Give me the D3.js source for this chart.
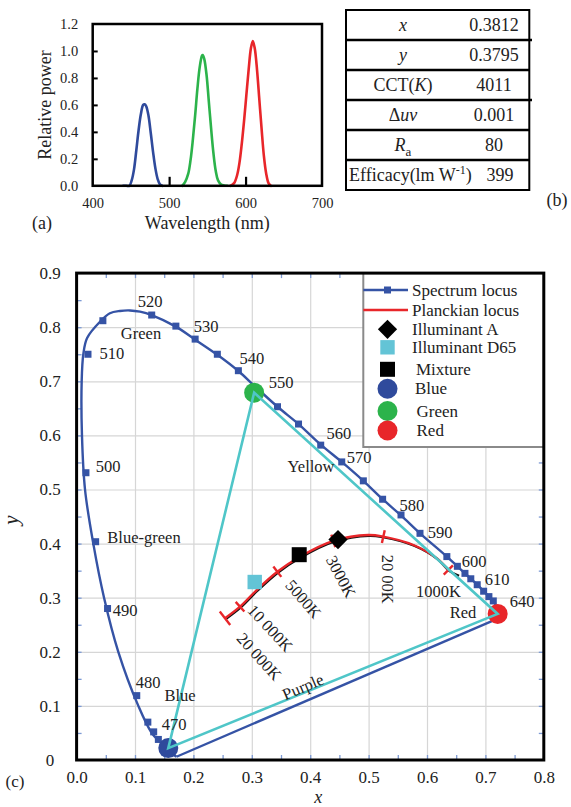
<!DOCTYPE html>
<html><head><meta charset="utf-8">
<script src="https://cdn.jsdelivr.net/npm/d3@7"></script>
<style>
html,body{margin:0;padding:0;background:#fff;}
svg{display:block;font-family:"Liberation Serif","Times New Roman",serif;}
</style></head><body>
<svg id="fig" width="571" height="807"></svg>
<script>
// ---------- (a) LED spectra ----------
const wavelengthTicks = [400, 500, 600, 700];
const powerTicks = [0, 0.2, 0.4, 0.6, 0.8, 1.0, 1.2];
const powerTickLabels = ["0.0", "0.2", "0.4", "0.6", "0.8", "1.0", "1.2"];
const blueSpectrum = [[440,0],[444,0],[448,0],[451,0.04],[454,0.12],[457,0.26],[460,0.41],[463,0.53],[466,0.60],[468,0.605],[470,0.59],[473,0.52],[476,0.39],[479,0.25],[482,0.13],[485,0.05],[488,0.01],[491,0]];
const greenSpectrum = [[517,0],[521,0.03],[525,0.09],[528,0.19],[531,0.34],[534,0.52],[537,0.72],[540,0.88],[543,0.965],[544,0.97],[546,0.94],[549,0.82],[552,0.62],[555,0.42],[558,0.24],[561,0.11],[564,0.04],[568,0.01],[572,0.003],[576,0]];
const redSpectrum = [[580,0],[585,0.02],[589,0.08],[592,0.17],[595,0.31],[598,0.48],[601,0.67],[604,0.86],[607,1.02],[609.5,1.074],[612,1.02],[615,0.86],[618,0.64],[621,0.42],[624,0.22],[627,0.09],[630,0.02],[633,0]];

// ---------- (b) colour metrics ----------
const tableLabels = [
  [["x","i"]],
  [["y","i"]],
  [["CCT(",""],["K","i"],[")",""]],
  [["\u0394",""],["uv","i"]],
  [["R","i"],["a","sub"]],
  [["Efficacy(lm W",""],["-1","sup"],[")",""]]
];
const tableValues = ["0.3812", "0.3795", "4011", "0.001", "80", "399"];

// ---------- (c) CIE 1931 chromaticity diagram ----------
const xTicks = [0, 0.1, 0.2, 0.3, 0.4, 0.5, 0.6, 0.7, 0.8];
const xTickLabels = ["0.0","0.1","0.2","0.3","0.4","0.5","0.6","0.7","0.8"];
const yTicks = [0, 0.1, 0.2, 0.3, 0.4, 0.5, 0.6, 0.7, 0.8, 0.9];
const yTickLabels = ["0","0.1","0.2","0.3","0.4","0.5","0.6","0.7","0.8","0.9"];
const minorX = [0.05,0.1,0.15,0.2,0.25,0.3,0.35,0.4,0.45,0.5,0.55,0.6,0.65,0.7,0.75];
const minorY = [0.05,0.1,0.15,0.2,0.25,0.3,0.35,0.4,0.45,0.5,0.55,0.6,0.65,0.7,0.75,0.8,0.85];

// spectrum locus outline, blue end to red end
const locusCurve = [[0.171,0.006],[0.158,0.016],[0.146,0.030],[0.1286,0.05],[0.1057,0.1],[0.0714,0.2],[0.047,0.3],[0.0286,0.4],[0.0144,0.5],[0.0092,0.6],[0.0087,0.7],[0.0115,0.75],[0.018,0.78],[0.040,0.81],[0.057,0.8257],[0.0743,0.830],[0.0914,0.831],[0.1086,0.8287],[0.1286,0.8225],[0.170,0.801],[0.203,0.777],[0.241,0.749],[0.277,0.719],[0.304,0.692],[0.344,0.653],[0.380,0.621],[0.418,0.583],[0.454,0.551],[0.491,0.516],[0.524,0.482],[0.5555,0.452],[0.588,0.419],[0.634,0.376],[0.652,0.358],[0.665,0.345],[0.675,0.335],[0.686,0.324],[0.697,0.312],[0.706,0.302],[0.7135,0.294],[0.727,0.264]];
const locusMarkers = [[0.140,0.038],[0.132,0.052],[0.122,0.070],[0.103,0.119],[0.053,0.280],[0.0326,0.4035],[0.016,0.531],[0.0195,0.750],[0.045,0.812],[0.1286,0.8225],[0.170,0.802],[0.203,0.778],[0.241,0.750],[0.277,0.7196],[0.344,0.653],[0.380,0.621],[0.418,0.582],[0.454,0.551],[0.491,0.516],[0.524,0.482],[0.5555,0.453],[0.588,0.419],[0.634,0.376],[0.652,0.358],[0.665,0.345],[0.675,0.335],[0.686,0.324],[0.697,0.312],[0.706,0.302],[0.7135,0.294]];
const purpleLine = [[0.171,0.006],[0.727,0.264]];

// Planckian locus, 20 000 K to 1000 K
const planckCurve = [[0.2541,0.2619],[0.2798,0.2834],[0.3084,0.3142],[0.3437,0.348],[0.3825,0.3758],[0.4396,0.405],[0.4995,0.4159],[0.5252,0.4128],[0.5766,0.3974],[0.6166,0.3728],[0.6365,0.3512]];
const planckExtension = [[0.6365,0.3512],[0.6536,0.342]];
const cctNames = ["20 000K", "10 000K", "5000K", "3000K", "20 00K", "1000K"];
const cctPoints = [[0.2541,0.2619],[0.2798,0.2834],[0.3437,0.348],[0.4396,0.405],[0.5252,0.4128],[0.6365,0.3512]];

const illuminantA = [0.4476, 0.4074];
const illuminantD65 = [0.305, 0.329];
const mixture = [0.3812, 0.3795];
const primaryNames = ["Blue", "Green", "Red"];
const primaries = [[0.157,0.022],[0.304,0.679],[0.721,0.270]];

const C = {
  locus: "#3553a5", cyan: "#4fc6c8", planck: "#e8262a", d65: "#63c4d6",
  blue: "#2f4a9c", green: "#2cb34b", red: "#e8262a", text: "#222", grid: "#d6d6d6", tick: "#7d9ad4"
};
const primaryColors = [C.blue, C.green, C.red];

const svg = d3.select("#fig");
const serif = "Liberation Serif, Times New Roman, serif";

/* ================= panel (a) ================= */
const ax = d3.scaleLinear().domain([400, 700]).range([92.7, 322]);
const ay = d3.scaleLinear().domain([0, 1.2]).range([185.8, 24]);
const pa = svg.append("g");

const axB = pa.append("g").attr("transform", `translate(0,${ay(0)})`)
  .call(d3.axisBottom(ax).tickValues(wavelengthTicks).tickSize(0).tickPadding(12).tickFormat(d3.format("d")));
axB.attr("font-family", serif).attr("font-size", 14.5);
axB.select(".domain").remove();
axB.selectAll("text").attr("fill", C.text);

const axL = pa.append("g").attr("transform", `translate(${ax(400)},0)`)
  .call(d3.axisLeft(ay).tickValues(powerTicks).tickSize(0).tickPadding(14.5).tickFormat((d, i) => powerTickLabels[i]));
axL.attr("font-family", serif).attr("font-size", 14.5);
axL.select(".domain").remove();
axL.selectAll("text").attr("fill", C.text);

// inward tick marks
const axLt = pa.append("g").attr("transform", `translate(${ax(400)},0)`)
  .call(d3.axisLeft(ay).tickValues(powerTicks.slice(1, -1)).tickSize(-5).tickFormat(""));
axLt.select(".domain").remove();
axLt.selectAll("line").attr("stroke", "#000").attr("stroke-width", 2);
const axBt = pa.append("g").attr("transform", `translate(0,${ay(0)})`)
  .call(d3.axisBottom(ax).tickValues(wavelengthTicks.slice(1, -1)).tickSize(-9).tickFormat(""));
axBt.select(".domain").remove();
axBt.selectAll("line").attr("stroke", "#000").attr("stroke-width", 2.2);

const specLine = d3.line().x(d => ax(d[0])).y(d => ay(d[1])).curve(d3.curveCatmullRom.alpha(0.5));
[[blueSpectrum, C.blue], [greenSpectrum, C.green], [redSpectrum, C.red]].forEach(([s, col]) => {
  pa.append("path").attr("d", specLine(s)).attr("fill", "none").attr("stroke", col)
    .attr("stroke-width", 2.6).attr("stroke-linejoin", "round").attr("stroke-linecap", "round");
});

pa.append("rect").attr("x", ax(400)).attr("y", ay(1.2)).attr("width", ax(700) - ax(400)).attr("height", ay(0) - ay(1.2))
  .attr("fill", "none").attr("stroke", "#000").attr("stroke-width", 2.5);

pa.append("text").attr("transform", `translate(45,${(ay(0) + ay(1.2)) / 2}) rotate(-90)`)
  .attr("text-anchor", "middle").attr("dy", "0.32em").attr("font-size", 18).attr("fill", C.text).text("Relative power");
pa.append("text").attr("x", (ax(400) + ax(700)) / 2).attr("y", 223).attr("dy", "0.32em")
  .attr("text-anchor", "middle").attr("font-size", 18).attr("fill", C.text).text("Wavelength (nm)");
pa.append("text").attr("x", 42).attr("y", 223).attr("dy", "0.32em").attr("text-anchor", "middle")
  .attr("font-size", 18).attr("fill", C.text).text("(a)");

/* ================= panel (b) ================= */
const pb = svg.append("g");
const rowBand = d3.scaleBand().domain(d3.range(tableValues.length)).range([10, 190]);
pb.append("rect").attr("x", 346).attr("y", 10).attr("width", 183.3).attr("height", 180)
  .attr("fill", "none").attr("stroke", "#000").attr("stroke-width", 2);
tableValues.forEach((v, i) => {
  if (i > 0) {
    pb.append("line").attr("x1", 346).attr("x2", i % 2 === 1 && i < 4 ? 532 : 529.3)
      .attr("y1", rowBand(i)).attr("y2", rowBand(i)).attr("stroke", "#000").attr("stroke-width", 2.6);
  }
  const yc = rowBand(i) + rowBand.bandwidth() / 2;
  const last = i === tableValues.length - 1;
  const t = pb.append("text").attr("x", last ? 349 : 403).attr("y", yc).attr("dy", "0.34em")
    .attr("text-anchor", last ? "start" : "middle").attr("font-size", 18).attr("fill", C.text);
  tableLabels[i].forEach(([s, style]) => {
    const ts = t.append("tspan").text(s);
    if (style === "i") ts.attr("font-style", "italic");
    if (style === "sub") ts.attr("font-size", 13).attr("dy", 5);
    if (style === "sup") ts.attr("font-size", 12).attr("dy", -7);
    if (style === "" && s === ")" && tableLabels[i].some(p => p[1] === "sup")) ts.attr("dy", 7);
  });
  pb.append("text").attr("x", last ? 500 : 494).attr("y", yc).attr("dy", "0.34em")
    .attr("text-anchor", "middle").attr("font-size", 18).attr("fill", C.text).text(v);
});
pb.append("text").attr("x", 557).attr("y", 200).attr("dy", "0.32em").attr("text-anchor", "middle")
  .attr("font-size", 18).attr("fill", C.text).text("(b)");

/* ================= panel (c) ================= */
const cx = d3.scaleLinear().domain([0, 0.8]).range([76.6, 543.8]);
const cy = d3.scaleLinear().domain([0, 0.9]).range([760, 273.1]);
const pc = svg.append("g");
const W = cx(0.8) - cx(0), H = cy(0) - cy(0.9);

// grid
const gGx = pc.append("g").attr("transform", `translate(0,${cy(0)})`)
  .call(d3.axisBottom(cx).tickValues(xTicks.slice(1, -1)).tickSize(-H).tickFormat(""));
const gGy = pc.append("g").attr("transform", `translate(${cx(0)},0)`)
  .call(d3.axisLeft(cy).tickValues(yTicks.slice(1, -1)).tickSize(-W).tickFormat(""));
[gGx, gGy].forEach(g => { g.select(".domain").remove(); g.selectAll("line").attr("stroke", C.grid).attr("stroke-width", 1.2); });

// inward minor ticks on all four sides
const tickAxes = [
  [d3.axisBottom(cx).tickValues(minorX), `translate(0,${cy(0)})`],
  [d3.axisTop(cx).tickValues(minorX), `translate(0,${cy(0.9)})`],
  [d3.axisLeft(cy).tickValues(minorY), `translate(${cx(0)},0)`],
  [d3.axisRight(cy).tickValues(minorY), `translate(${cx(0.8)},0)`]
];
tickAxes.forEach(([a, tr]) => {
  const g = pc.append("g").attr("transform", tr).call(a.tickSize(-5).tickFormat(""));
  g.select(".domain").remove();
  g.selectAll("line").attr("stroke", C.tick).attr("stroke-width", 1.3);
});

// tick labels
const lx = pc.append("g").attr("transform", `translate(0,${cy(0)})`)
  .call(d3.axisBottom(cx).tickValues(xTicks).tickSize(0).tickPadding(10.5).tickFormat((d, i) => xTickLabels[i]));
lx.attr("font-family", serif).attr("font-size", 17);
lx.select(".domain").remove();
lx.selectAll("text").attr("fill", C.text);
const ly = pc.append("g").attr("transform", `translate(${cx(0)},0)`)
  .call(d3.axisLeft(cy).tickValues(yTicks).tickSize(0).tickFormat((d, i) => yTickLabels[i]));
ly.attr("font-family", serif).attr("font-size", 17);
ly.select(".domain").remove();
ly.selectAll("text").attr("fill", C.text).attr("text-anchor", "middle").attr("x", 50 - cx(0));

pc.append("text").attr("x", (cx(0) + cx(0.8)) / 2 + 8).attr("y", 799).attr("dy", "0.22em").attr("text-anchor", "middle")
  .attr("font-size", 18).attr("font-style", "italic").attr("fill", C.text).text("x");
pc.append("text").attr("transform", `translate(13,520) rotate(-90)`).attr("dy", "0.25em").attr("text-anchor", "middle")
  .attr("font-size", 21).attr("font-style", "italic").attr("fill", C.text).text("y");
pc.append("text").attr("x", 15).attr("y", 782).attr("dy", "0.32em").attr("text-anchor", "middle")
  .attr("font-size", 17).attr("fill", C.text).text("(c)");

const clineS = d3.line().x(d => cx(d[0])).y(d => cy(d[1])).curve(d3.curveCatmullRom.alpha(0.5));
const cline = d3.line().x(d => cx(d[0])).y(d => cy(d[1]));

// Planckian locus: black reference under red overlay
pc.append("path").attr("d", clineS(planckCurve.concat(planckExtension.slice(1)))).attr("fill", "none")
  .attr("stroke", "#111").attr("stroke-width", 2.2).attr("transform", "translate(0.8,0.8)");
pc.append("path").attr("d", clineS(planckCurve)).attr("fill", "none").attr("stroke", C.planck).attr("stroke-width", 2.4);
const pPx = planckCurve.map(d => [cx(d[0]), cy(d[1])]);
cctPoints.forEach((p, k) => {
  const px = cx(p[0]), py = cy(p[1]);
  let best = 0, bd = Infinity;
  pPx.forEach((q, j) => { const dd = (q[0] - px) ** 2 + (q[1] - py) ** 2; if (dd < bd) { bd = dd; best = j; } });
  const a = pPx[Math.max(best - 1, 0)], b = pPx[Math.min(best + 1, pPx.length - 1)];
  let tx = b[0] - a[0], ty = b[1] - a[1]; const L = Math.hypot(tx, ty); tx /= L; ty /= L;
  const half = k === 0 ? 8.5 : 6.5;
  pc.append("line").attr("x1", px - ty * half).attr("y1", py + tx * half).attr("x2", px + ty * half).attr("y2", py - tx * half)
    .attr("stroke", C.planck).attr("stroke-width", 2.4);
});

// spectrum locus and line of purples
pc.append("path").attr("d", clineS(locusCurve)).attr("fill", "none").attr("stroke", C.locus).attr("stroke-width", 2.4);
pc.append("path").attr("d", cline(purpleLine)).attr("fill", "none").attr("stroke", C.locus).attr("stroke-width", 2.4);
pc.selectAll(".lm").data(locusMarkers).join("rect").attr("class", "lm")
  .attr("x", d => cx(d[0]) - 3.5).attr("y", d => cy(d[1]) - 3.5).attr("width", 7).attr("height", 7).attr("fill", C.locus);

// illuminants and mixture
pc.append("rect").attr("x", cx(illuminantD65[0]) - 7.2).attr("y", cy(illuminantD65[1]) - 7.2).attr("width", 14.4).attr("height", 14.4).attr("fill", C.d65);
pc.append("path").attr("d", d3.symbol(d3.symbolSquare, 185)()).attr("fill", "#000")
  .attr("transform", `translate(${cx(illuminantA[0])},${cy(illuminantA[1])}) rotate(45)`);
pc.append("rect").attr("x", cx(mixture[0]) - 7.5).attr("y", cy(mixture[1]) - 7.5).attr("width", 15).attr("height", 15).attr("fill", "#000");

// primaries
pc.selectAll(".prim").data(primaries).join("circle").attr("class", "prim")
  .attr("cx", d => cx(d[0])).attr("cy", d => cy(d[1])).attr("r", 10).attr("fill", (d, i) => primaryColors[i]);

// colour gamut triangle
pc.append("path").attr("d", cline(primaries) + "Z").attr("fill", "none").attr("stroke", C.cyan)
  .attr("stroke-width", 2.6).attr("stroke-linejoin", "miter");

// annotations
const annotations = [
  ["520", 0.1257, 0.8466, 0], ["Green", 0.1103, 0.789, 0], ["530", 0.2216, 0.8004, 0], ["510", 0.0606, 0.7505, 0],
  ["540", 0.3003, 0.7412, 0], ["550", 0.35, 0.6969, 0], ["500", 0.0538, 0.5416, 0], ["560", 0.4493, 0.6026, 0],
  ["570", 0.4836, 0.5582, 0], ["Yellow", 0.4014, 0.5416, 0], ["580", 0.5743, 0.4695, 0], ["590", 0.6223, 0.4196, 0],
  ["600", 0.6805, 0.366, 0], ["610", 0.7199, 0.3327, 0], ["640", 0.7627, 0.292, 0], ["Red", 0.6616, 0.2717, 0],
  ["Blue-green", 0.1154, 0.4104, 0], ["490", 0.0829, 0.2754, 0], ["480", 0.1223, 0.1423, 0], ["Blue", 0.1771, 0.1183, 0],
  ["470", 0.1668, 0.0647, 0], ["Purple", 0.3877, 0.1350, -23.2]
];
const cctLabelPos = [[0.3123, 0.191, 48], [0.3312, 0.2434, 47], [0.3882, 0.2973, 49], [0.4524, 0.3389, 62], [0.5324, 0.3342, 90], [0.6194, 0.3111, 0]];
cctNames.forEach((n, i) => annotations.push([n, cctLabelPos[i][0], cctLabelPos[i][1], cctLabelPos[i][2]]));
pc.selectAll(".ann").data(annotations).join("text").attr("class", "ann")
  .attr("transform", d => `translate(${cx(d[1])},${cy(d[2])}) rotate(${d[3]})`)
  .attr("text-anchor", "middle").attr("dy", "0.33em").attr("font-size", 16.5).attr("fill", C.text).text(d => d[0]);

// legend
const lg = pc.append("g");
lg.append("rect").attr("x", 363.3).attr("y", cy(0.9)).attr("width", cx(0.8) - 363.3).attr("height", 447 - cy(0.9))
  .attr("fill", "#fff").attr("stroke", "#8a8a8a").attr("stroke-width", 2);
const legendNames = ["Spectrum locus", "Planckian locus", "Illuminant A", "Illuminant D65", "Mixture", "Blue", "Green", "Red"];
const legendRowY = [290, 310, 329.3, 347.3, 369.3, 388.8, 411, 430.5];
const legendTextX = [412, 412, 412, 412, 416, 415, 416.5, 416.5];
const mxL = 387.5;
lg.append("line").attr("x1", 363.3).attr("x2", 408).attr("y1", legendRowY[0]).attr("y2", legendRowY[0]).attr("stroke", C.locus).attr("stroke-width", 2.4);
lg.append("rect").attr("x", mxL - 3.5).attr("y", legendRowY[0] - 3.5).attr("width", 7).attr("height", 7).attr("fill", C.locus);
lg.append("line").attr("x1", 363.3).attr("x2", 408).attr("y1", legendRowY[1]).attr("y2", legendRowY[1]).attr("stroke", C.planck).attr("stroke-width", 2.4);
lg.append("path").attr("d", d3.symbol(d3.symbolSquare, 185)()).attr("fill", "#000")
  .attr("transform", `translate(${mxL},${legendRowY[2]}) rotate(45)`);
lg.append("rect").attr("x", mxL - 7.2).attr("y", legendRowY[3] - 7.2).attr("width", 14.4).attr("height", 14.4).attr("fill", C.d65);
lg.append("rect").attr("x", mxL - 7.5).attr("y", legendRowY[4] - 7.5).attr("width", 15).attr("height", 15).attr("fill", "#000");
[5, 6, 7].forEach((r, i) => lg.append("circle").attr("cx", mxL).attr("cy", legendRowY[r]).attr("r", 10).attr("fill", primaryColors[i]));
legendNames.forEach((n, i) => lg.append("text").attr("x", legendTextX[i]).attr("y", legendRowY[i]).attr("dy", "0.33em")
  .attr("font-size", 17).attr("fill", C.text).text(n));

// plot frame
pc.append("rect").attr("x", cx(0)).attr("y", cy(0.9)).attr("width", W).attr("height", H)
  .attr("fill", "none").attr("stroke", "#000").attr("stroke-width", 3);
</script>
</body></html>
